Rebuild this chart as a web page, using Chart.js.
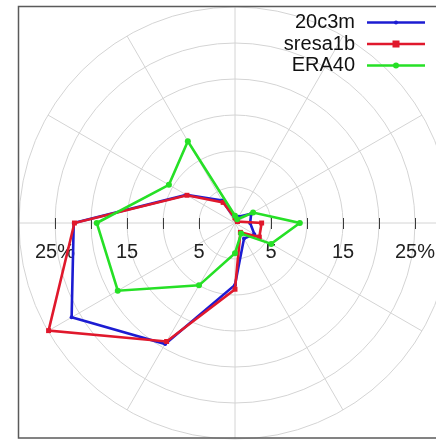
<!DOCTYPE html>
<html><head><meta charset="utf-8">
<script src="https://cdn.jsdelivr.net/npm/chart.js@4.4.1/dist/chart.umd.min.js"></script>
<style>
html,body{margin:0;padding:0;background:#fff;overflow:hidden;width:436px;height:440px;}
#wrap{position:absolute;left:0;top:0;width:470px;height:447px;}
</style></head><body>
<div id="wrap"><canvas id="c" width="470" height="447"></canvas></div>
<script>
// Wind direction, degrees counter-clockwise from east
const directions = [0, 30, 60, 90, 120, 150, 180, 210, 240, 270, 300, 330];
// Frequency of occurrence per direction (%)
const run20c3m   = [2.1, 2.6, 1.0, 0.6, 3.6, 7.8, 22.4, 26.2, 19.4, 8.6, 2.5, 3.1];
const runSresa1b = [3.7, 0.4, 0.5, 0.7, 3.3, 7.7, 22.3, 29.9, 19.0, 9.2, 1.5, 3.9];
const runEra40   = [9.0, 2.9, 0.6, 1.0, 13.1, 10.6, 19.2, 18.8, 10.0, 4.2, 1.7, 5.8];
const seriesNames = ['20c3m', 'sresa1b', 'ERA40'];
// Radial tick marks along the horizontal axis and the labelled ones
const axisTickValues = [5, 10, 15, 20, 25];
const axisLabelValues = [5, 15, 25];
const axisLabelText = ['5', '15', '25%'];

const colors = ['#1c1cd2', '#e0182c', '#26e026'];
const pointStyles = ['circle', 'rect', 'circle'];
const pointSizes = [2, 3.5, 3];

// The radial scale runs clockwise from its start angle, so walk the
// counter-clockwise directions backwards starting at east.
const clockwise = arr => arr.map((_, k) => arr[(arr.length - k) % arr.length]);
const labels = clockwise(directions).map(d => d + '°');
const seriesValues = [run20c3m, runSresa1b, runEra40];

const FONT = '"Liberation Sans", Arial, Helvetica, sans-serif';

const axisDecor = {
  id: 'axisDecor',
  beforeDatasetsDraw(chart) {
    const s = chart.scales.r, ctx = chart.ctx;
    const cx = s.xCenter, cy = s.yCenter;
    ctx.save();
    ctx.strokeStyle = '#3a3a3a';
    ctx.lineWidth = 1;
    axisTickValues.forEach(v => {
      const d = s.getDistanceFromCenterForValue(v);
      [-1, 1].forEach(sign => {
        const x = Math.round(cx + sign * d) + 0.5;
        ctx.beginPath(); ctx.moveTo(x, cy - 5); ctx.lineTo(x, cy + 6); ctx.stroke();
      });
    });
    ctx.fillStyle = '#222';
    ctx.font = '20px ' + FONT;
    ctx.textAlign = 'center';
    ctx.textBaseline = 'middle';
    axisLabelValues.forEach((v, i) => {
      const d = s.getDistanceFromCenterForValue(v);
      ctx.fillText(axisLabelText[i], cx - d, cy + 29);
      ctx.fillText(axisLabelText[i], cx + d, cy + 29);
    });
    ctx.restore();
  },
  afterDraw(chart) {
    const ctx = chart.ctx;
    ctx.save();
    // frame
    ctx.strokeStyle = '#5a5a5a';
    ctx.lineWidth = 1.5;
    ctx.strokeRect(18.5, 6.5, 445, 431.5);
    // key
    ctx.font = '20px ' + FONT;
    ctx.textAlign = 'right';
    ctx.textBaseline = 'middle';
    chart.data.datasets.forEach((ds, i) => {
      const y = 22.5 + i * 21.5;
      ctx.fillStyle = '#111';
      ctx.fillText(ds.label, 355, y);
      ctx.strokeStyle = ds.borderColor;
      ctx.lineWidth = 2.5;
      ctx.beginPath(); ctx.moveTo(367, y); ctx.lineTo(425, y); ctx.stroke();
      ctx.fillStyle = ds.borderColor;
      const r = ds.pointRadius;
      if (ds.pointStyle === 'rect') {
        ctx.fillRect(396 - r, y - r, 2 * r, 2 * r);
      } else {
        ctx.beginPath(); ctx.arc(396, y, r, 0, Math.PI * 2); ctx.fill();
      }
    });
    ctx.restore();
  }
};

new Chart(document.getElementById('c'), {
  type: 'radar',
  data: {
    labels,
    datasets: seriesValues.map((vals, i) => ({
      label: seriesNames[i],
      data: clockwise(vals),
      borderColor: colors[i],
      backgroundColor: colors[i],
      pointBackgroundColor: colors[i],
      pointBorderWidth: 0,
      pointStyle: pointStyles[i],
      pointRadius: pointSizes[i],
      borderWidth: 2.6,
      fill: false,
      tension: 0,
      order: 2 - i
    }))
  },
  options: {
    responsive: false,
    devicePixelRatio: 1,
    animation: false,
    layout: { padding: { left: 19, right: 19, top: 7, bottom: 8 } },
    plugins: { legend: { display: false }, tooltip: { enabled: false } },
    scales: {
      r: {
        min: 0, max: 30, startAngle: 90,
        ticks: { display: false, stepSize: 5 },
        pointLabels: { display: false },
        grid: { circular: true, color: '#d4d4d4', lineWidth: 1 },
        angleLines: { color: '#d4d4d4', lineWidth: 1 }
      }
    }
  },
  plugins: [axisDecor]
});
</script>
</body></html>
